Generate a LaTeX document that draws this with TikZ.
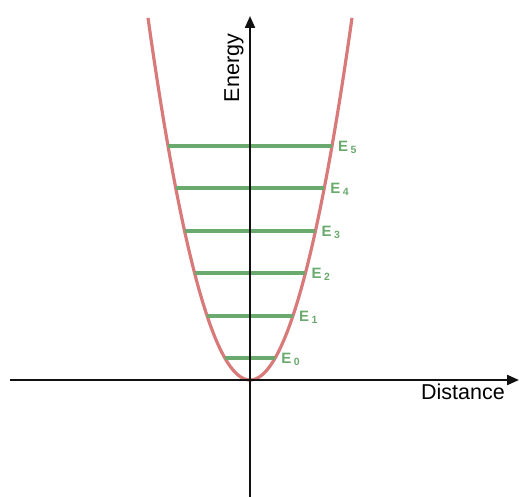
\documentclass[tikz,border=0pt]{standalone}
\usepackage{fontspec}
\setmainfont{Liberation Sans}
\usepackage{xcolor}
\usetikzlibrary{arrows.meta,positioning}
\definecolor{PRed}{HTML}{D8797A}
\definecolor{PGreen}{HTML}{6AAA6E}
\definecolor{PAxis}{HTML}{111111}

\begin{document}
\begin{tikzpicture}[
  x=1pt,y=-1pt,
  axis/.style={-{Triangle[length=12pt,width=10pt]},line width=2.2pt,color=PAxis},
  well/.style={line width=3.2pt,color=PRed},
  level/.style={line width=3.4pt,color=PGreen},
  elabel/.style={anchor=west,inner sep=0pt,color=PGreen,font=\fontsize{15}{15}\selectfont\bfseries},
  axlabel/.style={inner sep=0pt,font=\fontsize{21.5}{21.5}\selectfont}
]
  \useasboundingbox (0,0) rectangle (519,497);
  \coordinate (o) at (250,380);
  \coordinate (xl) at (10,380);
  \coordinate (xr) at (519,380);
  \coordinate (yb) at (250,497);
  \coordinate (yt) at (250,16);
  % potential well
  \draw[well] plot[domain=-102:102,samples=80,smooth] ({250+\x},{380-0.0348*\x*\x});
  % energy levels
  \foreach \n/\dy in {0/22,1/64,2/107,3/149,4/192,5/234}{
    \pgfmathsetmacro{\hw}{sqrt(\dy/0.0348)}
    \coordinate (l\n) at ({250-\hw},{380-\dy});
    \coordinate (r\n) at ({250+\hw},{380-\dy});
    \draw[level] (l\n) -- (r\n);
    \node[elabel,right=6pt of r\n,yshift=-1.5pt] (e\n) {E\,$_{\mathbf{\n}}$};
  }
  % axes
  \draw[axis] (xl) -- (xr);
  \draw[axis] (yb) -- (yt);
  \node[axlabel] (dist) at (463,392) {Distance};
  \node[axlabel,rotate=90] (en) at (234,68) {Energy};
\end{tikzpicture}
\end{document}
